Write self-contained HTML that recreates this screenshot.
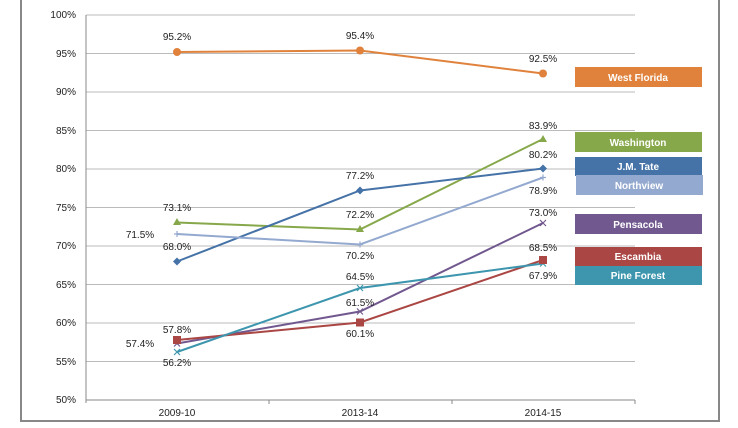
<!DOCTYPE html><html><head><style>body{margin:0;background:#fff}svg{display:block;font-family:"Liberation Sans",sans-serif}</style></head><body>
<svg width="738" height="428" xmlns="http://www.w3.org/2000/svg">
<rect x="21" y="-2" width="698" height="423" fill="none" stroke="#888" stroke-width="2"/>
<g stroke="#bbb" stroke-width="1">
<line x1="86" y1="15" x2="635" y2="15"/><line x1="86" y1="53.5" x2="635" y2="53.5"/><line x1="86" y1="92" x2="635" y2="92"/><line x1="86" y1="130.5" x2="635" y2="130.5"/><line x1="86" y1="169" x2="635" y2="169"/><line x1="86" y1="207.5" x2="635" y2="207.5"/><line x1="86" y1="246" x2="635" y2="246"/><line x1="86" y1="284.5" x2="635" y2="284.5"/><line x1="86" y1="323" x2="635" y2="323"/><line x1="86" y1="361.5" x2="635" y2="361.5"/>
</g>
<g stroke="#888"><line x1="86" y1="15" x2="86" y2="403"/><line x1="86" y1="400" x2="635" y2="400"/><line x1="269" y1="400" x2="269" y2="404"/><line x1="452" y1="400" x2="452" y2="404"/><line x1="635" y1="400" x2="635" y2="404"/></g>
<g font-size="10" fill="#222" text-anchor="end">
<text x="76" y="18">100%</text><text x="76" y="57">95%</text><text x="76" y="95">90%</text><text x="76" y="134">85%</text><text x="76" y="172">80%</text><text x="76" y="211">75%</text><text x="76" y="249">70%</text><text x="76" y="288">65%</text><text x="76" y="326">60%</text><text x="76" y="365">55%</text><text x="76" y="403">50%</text>
</g>
<g font-size="10" fill="#222" text-anchor="middle"><text x="177" y="416">2009-10</text><text x="360" y="416">2013-14</text><text x="543" y="416">2014-15</text></g>
<g fill="none" stroke-width="2">
<polyline points="177,52 360,50.5 543,73.5" stroke="#e0823c"/>
<polyline points="177,222.5 360,229.5 543,139" stroke="#86a84a"/>
<polyline points="177,261.5 360,190.5 543,168.5" stroke="#4572a7"/>
<polyline points="177,234 360,244.5 543,177.5" stroke="#93a9cf"/>
<polyline points="177,343.5 360,311.5 543,223" stroke="#71588f"/>
<polyline points="177,340 360,322.5 543,260" stroke="#aa4643"/>
<polyline points="177,352 360,288 543,263.5" stroke="#3d96ae"/>
</g>
<g stroke-width="1.2">
<path d="M174,234h6M177,231v6M357,244.5h6M360,241.5v6M540,177.5h6M543,174.5v6" stroke="#93a9cf"/>
<path d="M174,340.5l6,6M180,340.5l-6,6M357,308.5l6,6M363,308.5l-6,6M540,220l6,6M546,220l-6,6" stroke="#71588f"/>
<path d="M174,349l6,6M180,349l-6,6M357,285l6,6M363,285l-6,6M540,260.5l6,6M546,260.5l-6,6" stroke="#3d96ae"/>
</g>
<g fill="#e0823c"><circle cx="177" cy="52" r="4"/><circle cx="360" cy="50.5" r="4"/><circle cx="543" cy="73.5" r="4"/></g>
<g fill="#86a84a"><path d="M177,218l4,7h-8z"/><path d="M360,225l4,7h-8z"/><path d="M543,135l4,7h-8z"/></g>
<g fill="#4572a7"><path d="M177,257.5l4,4-4,4-4-4z"/><path d="M360,186.5l4,4-4,4-4-4z"/><path d="M543,164.5l4,4-4,4-4-4z"/></g>
<g fill="#aa4643"><rect x="173" y="336" width="8" height="8"/><rect x="356" y="318.5" width="8" height="8"/><rect x="539" y="256" width="8" height="8"/></g>
<g font-size="10" fill="#222" text-anchor="middle">
<text x="177" y="40">95.2%</text><text x="360" y="39">95.4%</text><text x="543" y="62">92.5%</text>
<text x="177" y="211">73.1%</text><text x="360" y="218">72.2%</text><text x="543" y="129">83.9%</text>
<text x="177" y="250">68.0%</text><text x="360" y="179">77.2%</text><text x="543" y="158">80.2%</text>
<text x="140" y="238">71.5%</text><text x="360" y="259">70.2%</text><text x="543" y="194">78.9%</text>
<text x="140" y="347">57.4%</text><text x="360" y="306">61.5%</text><text x="543" y="216">73.0%</text>
<text x="177" y="333">57.8%</text><text x="360" y="337">60.1%</text><text x="543" y="251">68.5%</text>
<text x="177" y="366">56.2%</text><text x="360" y="280">64.5%</text><text x="543" y="279">67.9%</text>
</g>
<g font-size="10" font-weight="bold" fill="#fff" text-anchor="middle">
<rect x="575" y="67" width="127" height="20" fill="#e0823c"/><text x="638" y="81">West Florida</text>
<rect x="575" y="132" width="127" height="20" fill="#86a84a"/><text x="638" y="146">Washington</text>
<rect x="575" y="157" width="127" height="19" fill="#4572a7"/><text x="638" y="170">J.M. Tate</text>
<rect x="576" y="175" width="127" height="20" fill="#93a9cf"/><text x="639" y="189">Northview</text>
<rect x="575" y="214" width="127" height="20" fill="#71588f"/><text x="638" y="228">Pensacola</text>
<rect x="575" y="247" width="127" height="19" fill="#aa4643"/><text x="638" y="260">Escambia</text>
<rect x="575" y="266" width="127" height="19" fill="#3d96ae"/><text x="638" y="279">Pine Forest</text>
</g>
</svg></body></html>
